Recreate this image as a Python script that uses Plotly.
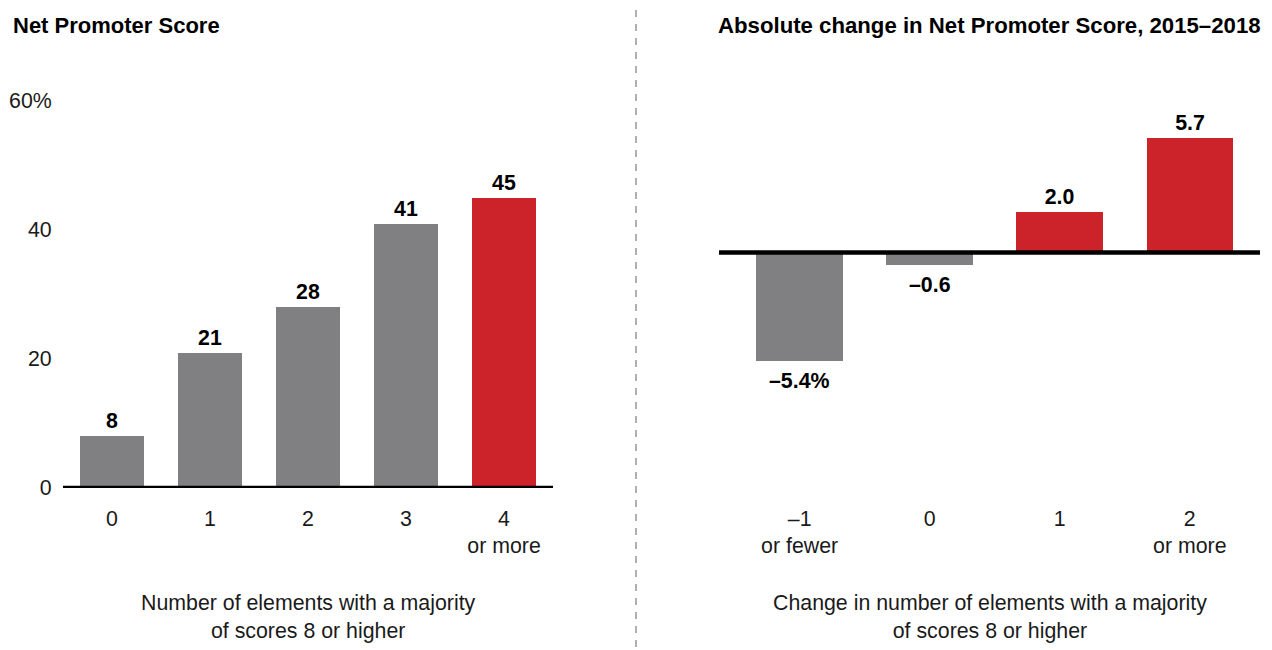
import plotly.graph_objects as go

# ---- data ----
left_categories = ["0", "1", "2", "3", "4<br>or more"]
left_values = [8, 21, 28, 41, 45]
left_colors = ["#808083", "#808083", "#808083", "#808083", "#CC2229"]
left_tickvals = [0, 20, 40, 60]
left_ticktext = ["0", "20", "40", "60%"]

right_categories = ["\u20131<br>or fewer", "0", "1", "2<br>or more"]
right_values = [-5.4, -0.6, 2.0, 5.7]
right_labels = ["\u20135.4%", "\u20130.6", "2.0", "5.7"]
right_colors = ["#808083", "#808083", "#CC2229", "#CC2229"]

left_title = "Net Promoter Score"
right_title = "Absolute change in Net Promoter Score, 2015\u20132018"
left_xtitle = "Number of elements with a majority<br>of scores 8 or higher"
right_xtitle = "Change in number of elements with a majority<br>of scores 8 or higher"

FONT = "Arial, Liberation Sans, sans-serif"
FS = 21.33
W, H = 1272, 650
PAGE_OFFSET = 8  # default body margin of the html page


def px_x(p):
    return (p - PAGE_OFFSET) / W


def px_y(p):
    return (H - (p - PAGE_OFFSET)) / H


fig = go.Figure()

fig.add_trace(go.Bar(
    x=list(range(len(left_categories))), y=left_values,
    marker=dict(color=left_colors, line=dict(width=0)),
    width=0.653,
    text=[str(v) for v in left_values],
    textposition="outside",
    textfont=dict(family=FONT, size=FS, color="#000000", weight="bold"),
    cliponaxis=False,
    xaxis="x", yaxis="y", showlegend=False, hoverinfo="skip",
))

fig.add_trace(go.Bar(
    x=list(range(len(right_categories))), y=right_values,
    marker=dict(color=right_colors, line=dict(width=0)),
    width=0.665,
    text=right_labels,
    textposition=["none" if v < 0 else "outside" for v in right_values],
    textfont=dict(family=FONT, size=FS, color="#000000", weight="bold"),
    cliponaxis=False,
    xaxis="x2", yaxis="y2", showlegend=False, hoverinfo="skip",
))

# negative value labels below their bars
for i, (v, lab) in enumerate(zip(right_values, right_labels)):
    if v < 0:
        fig.add_annotation(x=i, y=v, xref="x2", yref="y2", text="<b>%s</b>" % lab,
                           showarrow=False, yanchor="top", yshift=-6,
                           font=dict(family=FONT, size=FS, color="#000000"))

ydom = [px_y(488), px_y(101)]

fig.update_layout(
    width=W, height=H, autosize=False,
    margin=dict(l=0, r=0, t=0, b=0, pad=0, autoexpand=False),
    paper_bgcolor="white", plot_bgcolor="white",
    font=dict(family=FONT, size=FS, color="#1a1a1a"),
    bargap=0,
    xaxis=dict(
        domain=[px_x(63), px_x(553)],
        range=[-0.5, len(left_categories) - 0.5],
        tickvals=list(range(len(left_categories))),
        ticktext=left_categories,
        showgrid=False, zeroline=False, showline=False,
        ticks="outside", ticklen=11, tickcolor="rgba(0,0,0,0)",
        tickfont=dict(family=FONT, size=FS, color="#1a1a1a"),
        anchor="y", fixedrange=True, automargin=False,
    ),
    yaxis=dict(
        domain=ydom,
        range=[0, 60],
        tickvals=left_tickvals, ticktext=left_ticktext,
        showgrid=False, zeroline=False, showline=False,
        ticks="outside", ticklen=6, tickcolor="rgba(0,0,0,0)",
        tickfont=dict(family=FONT, size=FS, color="#1a1a1a"),
        anchor="x", fixedrange=True, automargin=False,
    ),
    xaxis2=dict(
        domain=[px_x(719), px_x(1260)],
        range=[-0.62, 3.54],
        tickvals=list(range(len(right_categories))),
        ticktext=right_categories,
        showgrid=False, zeroline=False, showline=False,
        ticks="outside", ticklen=11, tickcolor="rgba(0,0,0,0)",
        tickfont=dict(family=FONT, size=FS, color="#1a1a1a"),
        anchor="y2", fixedrange=True, automargin=False,
    ),
    yaxis2=dict(
        domain=ydom,
        range=[-11.716, 7.537],
        showticklabels=False, showgrid=False, zeroline=False, showline=False,
        anchor="x2", fixedrange=True, automargin=False,
    ),
)

# zero baselines
fig.add_shape(type="line", xref="x domain", yref="y", x0=0, x1=1, y0=0, y1=0,
              line=dict(color="#000000", width=4.5), layer="above")
fig.add_shape(type="line", xref="x2 domain", yref="y2", x0=0, x1=1, y0=0, y1=0,
              line=dict(color="#000000", width=4.5), layer="above")

# divider
fig.add_shape(type="line", xref="paper", yref="paper", x0=px_x(636), x1=px_x(636),
              y0=px_y(10), y1=0, line=dict(color="#606060", width=1, dash="7px,7px"))

# titles
fig.add_annotation(text="<b>%s</b>" % left_title, xref="paper", yref="paper",
                   x=px_x(11), y=px_y(26), xanchor="left", yanchor="middle",
                   showarrow=False, font=dict(family=FONT, size=22, color="#000000"))
fig.add_annotation(text="<b>%s</b>" % right_title, xref="paper", yref="paper",
                   x=px_x(716), y=px_y(26), xanchor="left", yanchor="middle",
                   showarrow=False, font=dict(family=FONT, size=22.2, color="#000000"))

# axis titles
fig.add_annotation(text=left_xtitle, xref="x domain", yref="paper",
                   x=0.5, y=px_y(617), xanchor="center", yanchor="middle",
                   showarrow=False, font=dict(family=FONT, size=FS, color="#1a1a1a"))
fig.add_annotation(text=right_xtitle, xref="x2 domain", yref="paper",
                   x=0.5, y=px_y(617), xanchor="center", yanchor="middle",
                   showarrow=False, font=dict(family=FONT, size=FS, color="#1a1a1a"))

fig.write_html("out.html")
